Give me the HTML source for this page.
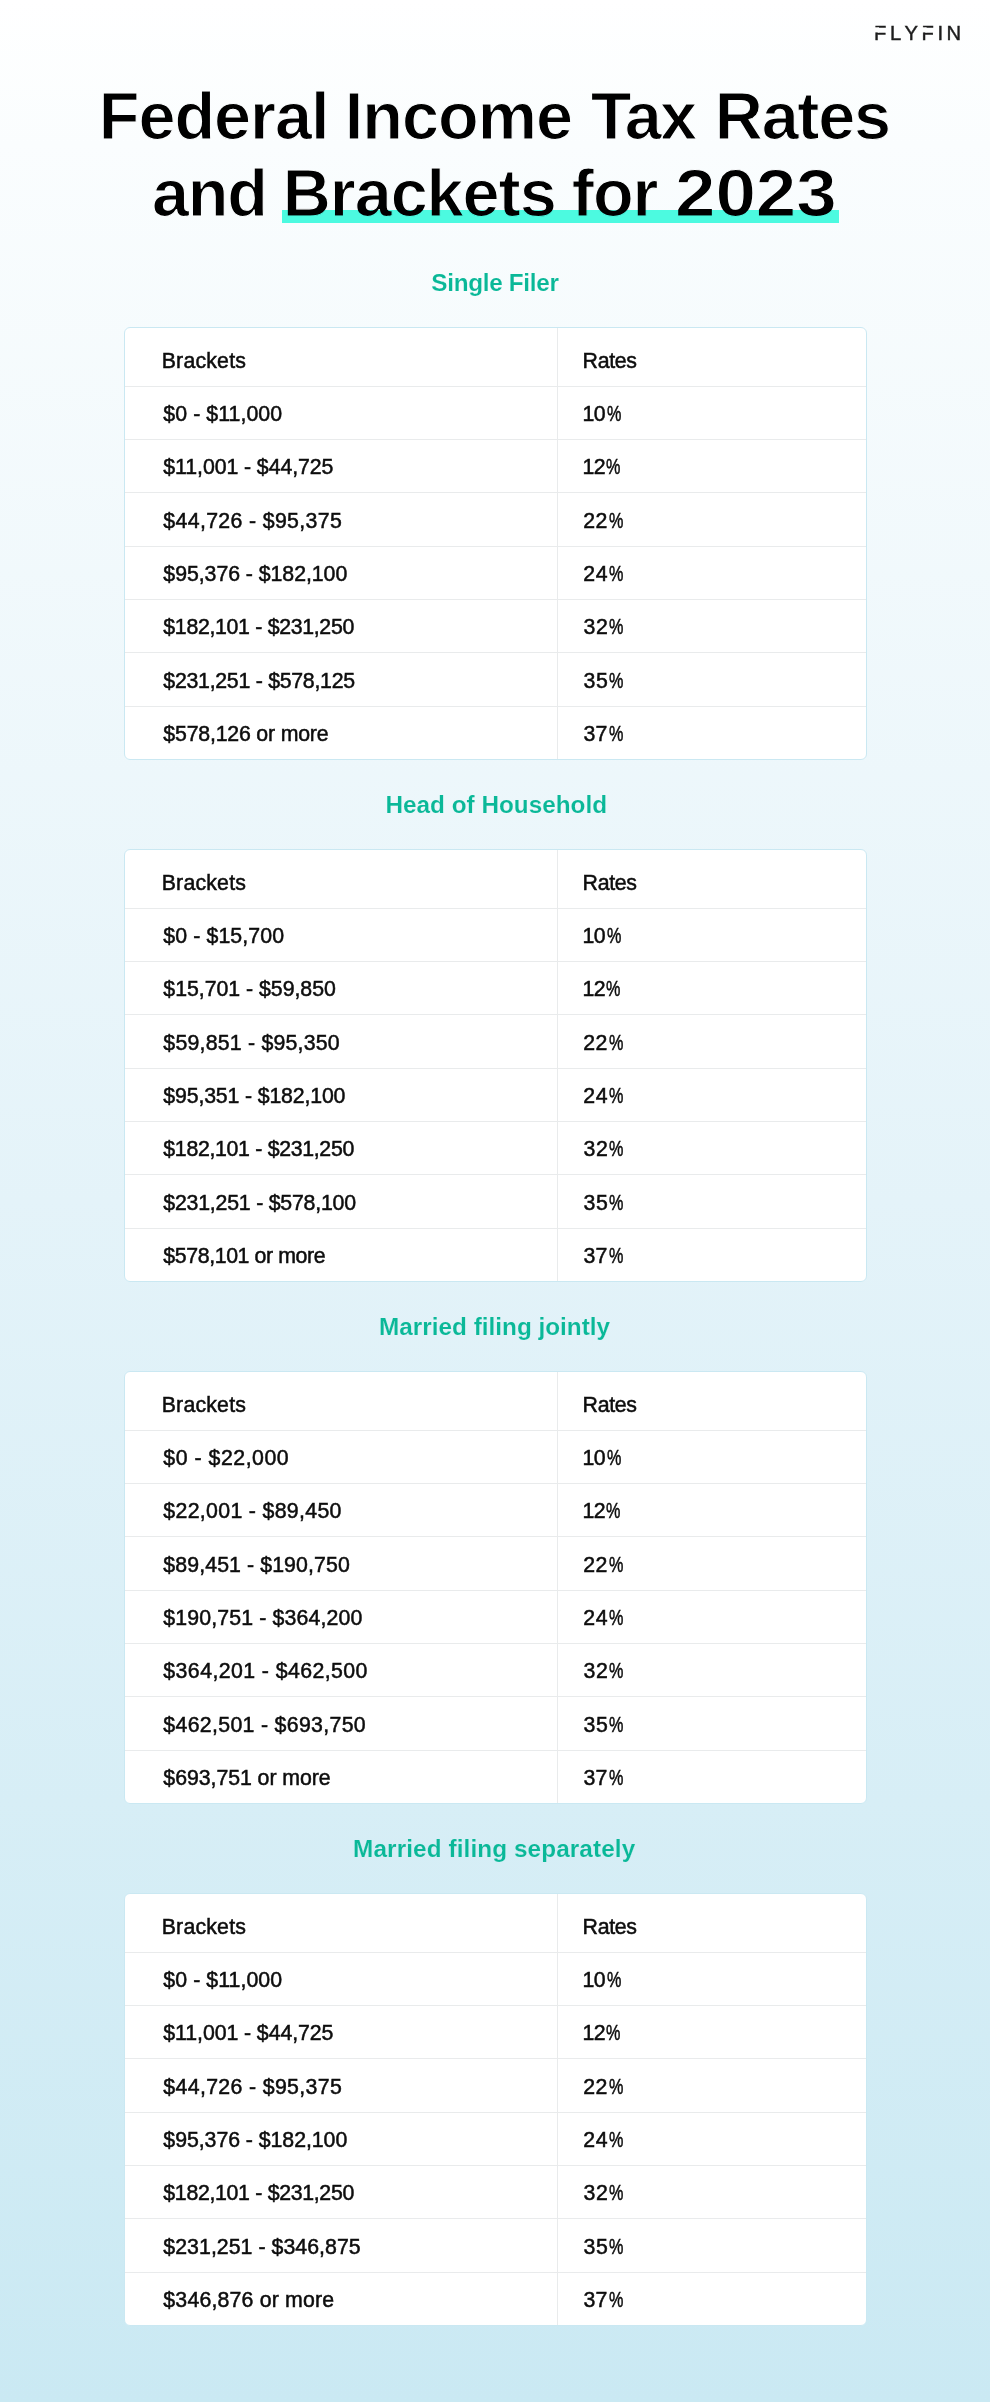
<!DOCTYPE html>
<html lang="en"><head><meta charset="utf-8"><title>Federal Income Tax Rates and Brackets for 2023</title>
<style>
html,body{margin:0;padding:0}
body{width:990px;height:2402px;position:relative;overflow:hidden;
 font-family:"Liberation Sans",Arial,sans-serif;
 background:linear-gradient(180deg,#ffffff 0%,#fafdfe 6%,#e4f3f9 50%,#cae9f3 100%);}
.t{position:absolute;white-space:nowrap;margin:0;padding:0}
.ttl{font-weight:700;color:#000;-webkit-text-stroke:1.15px #fbfdfe}
.hd{font-weight:700;color:#0ab898}
.c{font-weight:400;color:#0d0d0d}
.hl{position:absolute;left:281.7px;top:210px;width:557.3px;height:12.8px;background:#4cfae0;mix-blend-mode:multiply}
.tb{position:absolute;left:124px;width:743px;height:433px;box-sizing:border-box;background:#fff;
 border:1px solid #cae8f2;border-radius:6px;overflow:hidden}
.rl{position:absolute;left:0;width:743px;height:1px;background:#e9ebec}
.vl{position:absolute;left:432px;top:0;width:1px;height:433px;background:#e9ebec}
svg.logo{position:absolute;left:860px;top:15px}
#pg{position:absolute;left:0;top:0;width:990px;height:2402px;will-change:transform}
.c{-webkit-text-stroke:0.5px #0d0d0d}
.p{display:inline-block;letter-spacing:0;transform-origin:0 0}
</style></head><body><div id="pg">
<div class="tb" style="top:327px"><div class="vl"></div><div class="rl" style="top:58.00px"></div><div class="rl" style="top:111.00px"></div><div class="rl" style="top:164.00px"></div><div class="rl" style="top:218.00px"></div><div class="rl" style="top:271.00px"></div><div class="rl" style="top:324.00px"></div><div class="rl" style="top:378.00px"></div></div>
<div class="tb" style="top:849px"><div class="vl"></div><div class="rl" style="top:58.00px"></div><div class="rl" style="top:111.00px"></div><div class="rl" style="top:164.00px"></div><div class="rl" style="top:218.00px"></div><div class="rl" style="top:271.00px"></div><div class="rl" style="top:324.00px"></div><div class="rl" style="top:378.00px"></div></div>
<div class="tb" style="top:1371px"><div class="vl"></div><div class="rl" style="top:58.00px"></div><div class="rl" style="top:111.00px"></div><div class="rl" style="top:164.00px"></div><div class="rl" style="top:218.00px"></div><div class="rl" style="top:271.00px"></div><div class="rl" style="top:324.00px"></div><div class="rl" style="top:378.00px"></div></div>
<div class="tb" style="top:1893px"><div class="vl"></div><div class="rl" style="top:58.00px"></div><div class="rl" style="top:111.00px"></div><div class="rl" style="top:164.00px"></div><div class="rl" style="top:218.00px"></div><div class="rl" style="top:271.00px"></div><div class="rl" style="top:324.00px"></div><div class="rl" style="top:378.00px"></div></div>
<div class="t ttl" style="left:98.86px;top:79.00px;font-size:66.6px;line-height:74px;letter-spacing:-1.043px">Federal</div>
<div class="t ttl" style="left:344.66px;top:79.00px;font-size:66.6px;line-height:74px;letter-spacing:-0.959px">Income</div>
<div class="t ttl" style="left:590.72px;top:79.00px;font-size:66.6px;line-height:74px;letter-spacing:-1.696px">Tax</div>
<div class="t ttl" style="left:714.86px;top:79.00px;font-size:66.6px;line-height:74px;letter-spacing:-1.321px">Rates</div>
<div class="t ttl" style="left:152.08px;top:156.00px;font-size:66.6px;line-height:74px;letter-spacing:-1.276px">and</div>
<div class="t ttl" style="left:282.76px;top:156.00px;font-size:66.6px;line-height:74px;letter-spacing:-1.054px">Brackets</div>
<div class="t ttl" style="left:571.68px;top:156.00px;font-size:66.6px;line-height:74px;letter-spacing:-0.972px">for</div>
<div class="t ttl" style="left:675.45px;top:156.00px;font-size:66.6px;line-height:74px;letter-spacing:0.000px;transform-origin:0 0;transform:scaleX(1.0916)">2023</div>
<div class="t hd" style="left:431.36px;top:269.00px;font-size:24.3px;line-height:27px;letter-spacing:-0.312px;-webkit-text-stroke:0.12px #f7fcfd">Single Filer</div>
<div class="t hd" style="left:385.42px;top:791.00px;font-size:24.3px;line-height:27px;letter-spacing:0.018px;-webkit-text-stroke:0.12px #ecf7fb">Head of Household</div>
<div class="t hd" style="left:379.12px;top:1313.00px;font-size:24.3px;line-height:27px;letter-spacing:0.006px;-webkit-text-stroke:0.12px #e1f2f8">Married filing jointly</div>
<div class="t hd" style="left:353.12px;top:1835.00px;font-size:24.3px;line-height:27px;letter-spacing:0.106px;-webkit-text-stroke:0.12px #d6eef6">Married filing separately</div>
<div class="t c" style="left:161.69px;top:349.00px;font-size:21.3px;line-height:24px;letter-spacing:0.196px">Brackets</div>
<div class="t c" style="left:582.59px;top:349.00px;font-size:21.3px;line-height:24px;letter-spacing:-0.328px">Rates</div>
<div class="t c" style="left:163.35px;top:402.00px;font-size:21.3px;line-height:24px;letter-spacing:0.063px">$0 - $11,000</div>
<div class="t c" style="left:582.52px;top:402.00px;font-size:21.3px;line-height:24px;letter-spacing:-0.600px">10<span class="p" style="margin-left:1.67px;transform:scaleX(0.7608)">%</span></div>
<div class="t c" style="left:163.35px;top:455.00px;font-size:21.3px;line-height:24px;letter-spacing:-0.080px">$11,001 - $44,725</div>
<div class="t c" style="left:582.52px;top:455.00px;font-size:21.3px;line-height:24px;letter-spacing:-0.600px">12<span class="p" style="margin-left:0.87px;transform:scaleX(0.7608)">%</span></div>
<div class="t c" style="left:163.35px;top:509.00px;font-size:21.3px;line-height:24px;letter-spacing:0.347px">$44,726 - $95,375</div>
<div class="t c" style="left:583.25px;top:509.00px;font-size:21.3px;line-height:24px;letter-spacing:0.420px">22<span class="p" style="margin-left:1.00px;transform:scaleX(0.7608)">%</span></div>
<div class="t c" style="left:163.35px;top:562.00px;font-size:21.3px;line-height:24px;letter-spacing:-0.049px">$95,376 - $182,100</div>
<div class="t c" style="left:583.25px;top:562.00px;font-size:21.3px;line-height:24px;letter-spacing:0.687px">24<span class="p" style="margin-left:1.07px;transform:scaleX(0.7608)">%</span></div>
<div class="t c" style="left:163.35px;top:615.00px;font-size:21.3px;line-height:24px;letter-spacing:-0.315px">$182,101 - $231,250</div>
<div class="t c" style="left:583.58px;top:615.00px;font-size:21.3px;line-height:24px;letter-spacing:0.687px">32<span class="p" style="margin-left:0.73px;transform:scaleX(0.7608)">%</span></div>
<div class="t c" style="left:163.35px;top:669.00px;font-size:21.3px;line-height:24px;letter-spacing:-0.269px">$231,251 - $578,125</div>
<div class="t c" style="left:583.58px;top:669.00px;font-size:21.3px;line-height:24px;letter-spacing:0.687px">35<span class="p" style="margin-left:0.73px;transform:scaleX(0.7608)">%</span></div>
<div class="t c" style="left:163.35px;top:722.00px;font-size:21.3px;line-height:24px;letter-spacing:-0.192px">$578,126 or more</div>
<div class="t c" style="left:583.58px;top:722.00px;font-size:21.3px;line-height:24px;letter-spacing:0.087px">37<span class="p" style="margin-left:1.33px;transform:scaleX(0.7608)">%</span></div>
<div class="t c" style="left:161.69px;top:871.00px;font-size:21.3px;line-height:24px;letter-spacing:0.196px">Brackets</div>
<div class="t c" style="left:582.59px;top:871.00px;font-size:21.3px;line-height:24px;letter-spacing:-0.328px">Rates</div>
<div class="t c" style="left:163.35px;top:924.00px;font-size:21.3px;line-height:24px;letter-spacing:0.101px">$0 - $15,700</div>
<div class="t c" style="left:582.52px;top:924.00px;font-size:21.3px;line-height:24px;letter-spacing:-0.600px">10<span class="p" style="margin-left:1.67px;transform:scaleX(0.7608)">%</span></div>
<div class="t c" style="left:163.35px;top:977.00px;font-size:21.3px;line-height:24px;letter-spacing:-0.024px">$15,701 - $59,850</div>
<div class="t c" style="left:582.52px;top:977.00px;font-size:21.3px;line-height:24px;letter-spacing:-0.600px">12<span class="p" style="margin-left:0.87px;transform:scaleX(0.7608)">%</span></div>
<div class="t c" style="left:163.35px;top:1031.00px;font-size:21.3px;line-height:24px;letter-spacing:0.213px">$59,851 - $95,350</div>
<div class="t c" style="left:583.25px;top:1031.00px;font-size:21.3px;line-height:24px;letter-spacing:0.420px">22<span class="p" style="margin-left:1.00px;transform:scaleX(0.7608)">%</span></div>
<div class="t c" style="left:163.35px;top:1084.00px;font-size:21.3px;line-height:24px;letter-spacing:-0.155px">$95,351 - $182,100</div>
<div class="t c" style="left:583.25px;top:1084.00px;font-size:21.3px;line-height:24px;letter-spacing:0.687px">24<span class="p" style="margin-left:1.07px;transform:scaleX(0.7608)">%</span></div>
<div class="t c" style="left:163.35px;top:1137.00px;font-size:21.3px;line-height:24px;letter-spacing:-0.315px">$182,101 - $231,250</div>
<div class="t c" style="left:583.58px;top:1137.00px;font-size:21.3px;line-height:24px;letter-spacing:0.687px">32<span class="p" style="margin-left:0.73px;transform:scaleX(0.7608)">%</span></div>
<div class="t c" style="left:163.35px;top:1191.00px;font-size:21.3px;line-height:24px;letter-spacing:-0.215px">$231,251 - $578,100</div>
<div class="t c" style="left:583.58px;top:1191.00px;font-size:21.3px;line-height:24px;letter-spacing:0.687px">35<span class="p" style="margin-left:0.73px;transform:scaleX(0.7608)">%</span></div>
<div class="t c" style="left:163.35px;top:1244.00px;font-size:21.3px;line-height:24px;letter-spacing:-0.392px">$578,101 or more</div>
<div class="t c" style="left:583.58px;top:1244.00px;font-size:21.3px;line-height:24px;letter-spacing:0.087px">37<span class="p" style="margin-left:1.33px;transform:scaleX(0.7608)">%</span></div>
<div class="t c" style="left:161.69px;top:1393.00px;font-size:21.3px;line-height:24px;letter-spacing:0.196px">Brackets</div>
<div class="t c" style="left:582.59px;top:1393.00px;font-size:21.3px;line-height:24px;letter-spacing:-0.328px">Rates</div>
<div class="t c" style="left:163.35px;top:1446.00px;font-size:21.3px;line-height:24px;letter-spacing:0.520px">$0 - $22,000</div>
<div class="t c" style="left:582.52px;top:1446.00px;font-size:21.3px;line-height:24px;letter-spacing:-0.600px">10<span class="p" style="margin-left:1.67px;transform:scaleX(0.7608)">%</span></div>
<div class="t c" style="left:163.35px;top:1499.00px;font-size:21.3px;line-height:24px;letter-spacing:0.326px">$22,001 - $89,450</div>
<div class="t c" style="left:582.52px;top:1499.00px;font-size:21.3px;line-height:24px;letter-spacing:-0.600px">12<span class="p" style="margin-left:0.87px;transform:scaleX(0.7608)">%</span></div>
<div class="t c" style="left:163.35px;top:1553.00px;font-size:21.3px;line-height:24px;letter-spacing:0.098px">$89,451 - $190,750</div>
<div class="t c" style="left:583.25px;top:1553.00px;font-size:21.3px;line-height:24px;letter-spacing:0.420px">22<span class="p" style="margin-left:1.00px;transform:scaleX(0.7608)">%</span></div>
<div class="t c" style="left:163.35px;top:1606.00px;font-size:21.3px;line-height:24px;letter-spacing:0.135px">$190,751 - $364,200</div>
<div class="t c" style="left:583.25px;top:1606.00px;font-size:21.3px;line-height:24px;letter-spacing:0.687px">24<span class="p" style="margin-left:1.07px;transform:scaleX(0.7608)">%</span></div>
<div class="t c" style="left:163.35px;top:1659.00px;font-size:21.3px;line-height:24px;letter-spacing:0.418px">$364,201 - $462,500</div>
<div class="t c" style="left:583.58px;top:1659.00px;font-size:21.3px;line-height:24px;letter-spacing:0.687px">32<span class="p" style="margin-left:0.73px;transform:scaleX(0.7608)">%</span></div>
<div class="t c" style="left:163.35px;top:1713.00px;font-size:21.3px;line-height:24px;letter-spacing:0.318px">$462,501 - $693,750</div>
<div class="t c" style="left:583.58px;top:1713.00px;font-size:21.3px;line-height:24px;letter-spacing:0.687px">35<span class="p" style="margin-left:0.73px;transform:scaleX(0.7608)">%</span></div>
<div class="t c" style="left:163.35px;top:1766.00px;font-size:21.3px;line-height:24px;letter-spacing:-0.052px">$693,751 or more</div>
<div class="t c" style="left:583.58px;top:1766.00px;font-size:21.3px;line-height:24px;letter-spacing:0.087px">37<span class="p" style="margin-left:1.33px;transform:scaleX(0.7608)">%</span></div>
<div class="t c" style="left:161.69px;top:1915.00px;font-size:21.3px;line-height:24px;letter-spacing:0.196px">Brackets</div>
<div class="t c" style="left:582.59px;top:1915.00px;font-size:21.3px;line-height:24px;letter-spacing:-0.328px">Rates</div>
<div class="t c" style="left:163.35px;top:1968.00px;font-size:21.3px;line-height:24px;letter-spacing:0.063px">$0 - $11,000</div>
<div class="t c" style="left:582.52px;top:1968.00px;font-size:21.3px;line-height:24px;letter-spacing:-0.600px">10<span class="p" style="margin-left:1.67px;transform:scaleX(0.7608)">%</span></div>
<div class="t c" style="left:163.35px;top:2021.00px;font-size:21.3px;line-height:24px;letter-spacing:-0.080px">$11,001 - $44,725</div>
<div class="t c" style="left:582.52px;top:2021.00px;font-size:21.3px;line-height:24px;letter-spacing:-0.600px">12<span class="p" style="margin-left:0.87px;transform:scaleX(0.7608)">%</span></div>
<div class="t c" style="left:163.35px;top:2075.00px;font-size:21.3px;line-height:24px;letter-spacing:0.347px">$44,726 - $95,375</div>
<div class="t c" style="left:583.25px;top:2075.00px;font-size:21.3px;line-height:24px;letter-spacing:0.420px">22<span class="p" style="margin-left:1.00px;transform:scaleX(0.7608)">%</span></div>
<div class="t c" style="left:163.35px;top:2128.00px;font-size:21.3px;line-height:24px;letter-spacing:-0.049px">$95,376 - $182,100</div>
<div class="t c" style="left:583.25px;top:2128.00px;font-size:21.3px;line-height:24px;letter-spacing:0.687px">24<span class="p" style="margin-left:1.07px;transform:scaleX(0.7608)">%</span></div>
<div class="t c" style="left:163.35px;top:2181.00px;font-size:21.3px;line-height:24px;letter-spacing:-0.315px">$182,101 - $231,250</div>
<div class="t c" style="left:583.58px;top:2181.00px;font-size:21.3px;line-height:24px;letter-spacing:0.687px">32<span class="p" style="margin-left:0.73px;transform:scaleX(0.7608)">%</span></div>
<div class="t c" style="left:163.35px;top:2235.00px;font-size:21.3px;line-height:24px;letter-spacing:0.042px">$231,251 - $346,875</div>
<div class="t c" style="left:583.58px;top:2235.00px;font-size:21.3px;line-height:24px;letter-spacing:0.687px">35<span class="p" style="margin-left:0.73px;transform:scaleX(0.7608)">%</span></div>
<div class="t c" style="left:163.35px;top:2288.00px;font-size:21.3px;line-height:24px;letter-spacing:0.181px">$346,876 or more</div>
<div class="t c" style="left:583.58px;top:2288.00px;font-size:21.3px;line-height:24px;letter-spacing:0.087px">37<span class="p" style="margin-left:1.33px;transform:scaleX(0.7608)">%</span></div>
<div class="hl"></div>
<svg class="logo" width="120" height="36" viewBox="860 15 120 36">
<text x="874.0 890.0 904.4 921.6 937.6 946.4" y="39.7" font-family="Liberation Sans, Arial, sans-serif" font-size="20.2" fill="#1c1c1c" stroke="#1c1c1c" stroke-width="0.45">FLYFIN</text>
<rect x="873" y="27.3" width="6" height="5.1" fill="#fefefe"/>
<rect x="920.6" y="27.3" width="6" height="5.1" fill="#fefefe"/>
</svg>
</div></body></html>
